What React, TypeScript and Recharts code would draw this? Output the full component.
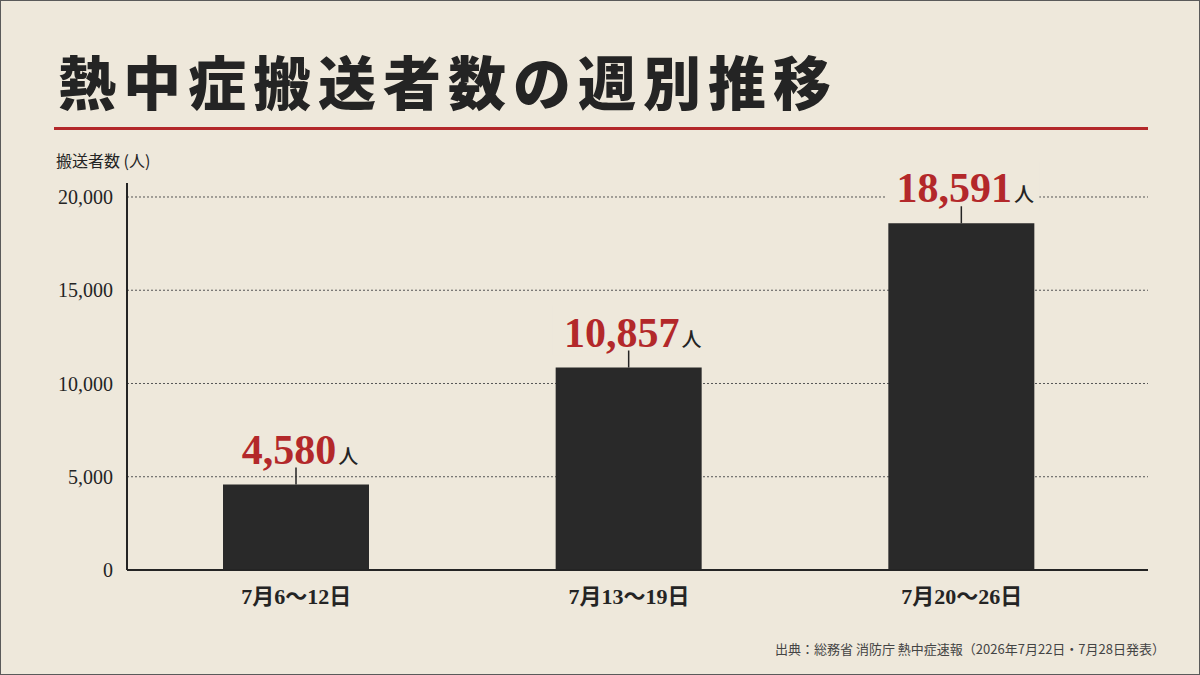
import React from "react";
import { BarChart, Bar, XAxis, YAxis, CartesianGrid, LabelList } from "recharts";

const categories = ["7月6〜12日", "7月13〜19日", "7月20〜26日"];
const transported = [4580, 10857, 18591];
const yTicks = [0, 5000, 10000, 15000, 20000];

const PAPER = "#eee8db";
const INK = "#242424";
const RED = "#b3282a";
const SERIF = '"Liberation Serif", "Noto Sans CJK JP", serif';
const SANS = '"Noto Sans CJK JP", "Noto Sans", sans-serif';

const data = categories.map((week, i) => ({ week, value: transported[i] }));

const renderValueLabel = (props: any) => {
  const { x, y, width, value } = props;
  const cx = x + width / 2;
  return (
    <g>
      <rect x={cx - 76} y={y - 62} width={154} height={50} fill={PAPER} />
      <line x1={cx} x2={cx} y1={y - 17} y2={y} stroke={INK} strokeWidth={1.5} />
      <text x={cx + 4} y={y - 21} textAnchor="middle">
        <tspan fontFamily={SERIF} fontWeight={700} fontSize={42} fill={RED}>
          {Number(value).toLocaleString("en-US")}
        </tspan>
        <tspan dx={2} fontFamily={SANS} fontWeight={500} fontSize={20} fill={INK}>
          人
        </tspan>
      </text>
    </g>
  );
};

export default function App() {
  return (
    <div
      style={{
        position: "fixed",
        left: 0,
        top: 0,
        width: 1200,
        height: 675,
        background: PAPER,
        border: "1px solid #5a5a5a",
        boxSizing: "border-box",
        overflow: "hidden",
        fontFamily: SANS,
      }}
    >
      <div
        style={{
          position: "absolute",
          left: 57,
          top: 50,
          fontSize: 58,
          lineHeight: 1,
          fontWeight: 900,
          letterSpacing: 7,
          color: INK,
          whiteSpace: "nowrap",
        }}
      >
        熱中症搬送者数の週別推移
      </div>
      <div style={{ position: "absolute", left: 53, top: 126, width: 1094, height: 3, background: RED }} />
      <div style={{ position: "absolute", left: 55, top: 147, fontSize: 16, color: INK, whiteSpace: "nowrap" }}>
        搬送者数 (人)
      </div>
      <div
        style={{
          position: "absolute",
          right: 34,
          top: 638,
          fontSize: 13,
          color: "#444",
          whiteSpace: "nowrap",
        }}
      >
        出典：総務省 消防庁 熱中症速報（2026年7月22日・7月28日発表）
      </div>
      <div style={{ position: "absolute", left: -1, top: -1 }}>
        <BarChart width={1200} height={675} data={data} margin={{ top: 183, right: 52, bottom: 0, left: 0 }}>
          <CartesianGrid
            vertical={false}
            horizontalValues={yTicks.slice(1)}
            stroke="#555"
            strokeDasharray="2 2"
          />
          <XAxis
            dataKey="week"
            height={105}
            tickLine={false}
            tickMargin={12}
            padding={{ left: 3, right: 20 }}
            axisLine={{ stroke: INK, strokeWidth: 2 }}
            tick={{ fill: INK, fontSize: 22, fontFamily: SERIF, fontWeight: 700 }}
          />
          <YAxis
            width={127}
            domain={[0, 20750]}
            ticks={yTicks}
            tickLine={false}
            tickMargin={8}
            axisLine={{ stroke: INK, strokeWidth: 2 }}
            tickFormatter={(v: number) => v.toLocaleString("en-US")}
            tick={{ fill: INK, fontSize: 20, fontFamily: SERIF }}
          />
          <Bar dataKey="value" fill="#292929" barSize={146} isAnimationActive={false}>
            <LabelList dataKey="value" content={renderValueLabel} />
          </Bar>
        </BarChart>
      </div>
    </div>
  );
}
